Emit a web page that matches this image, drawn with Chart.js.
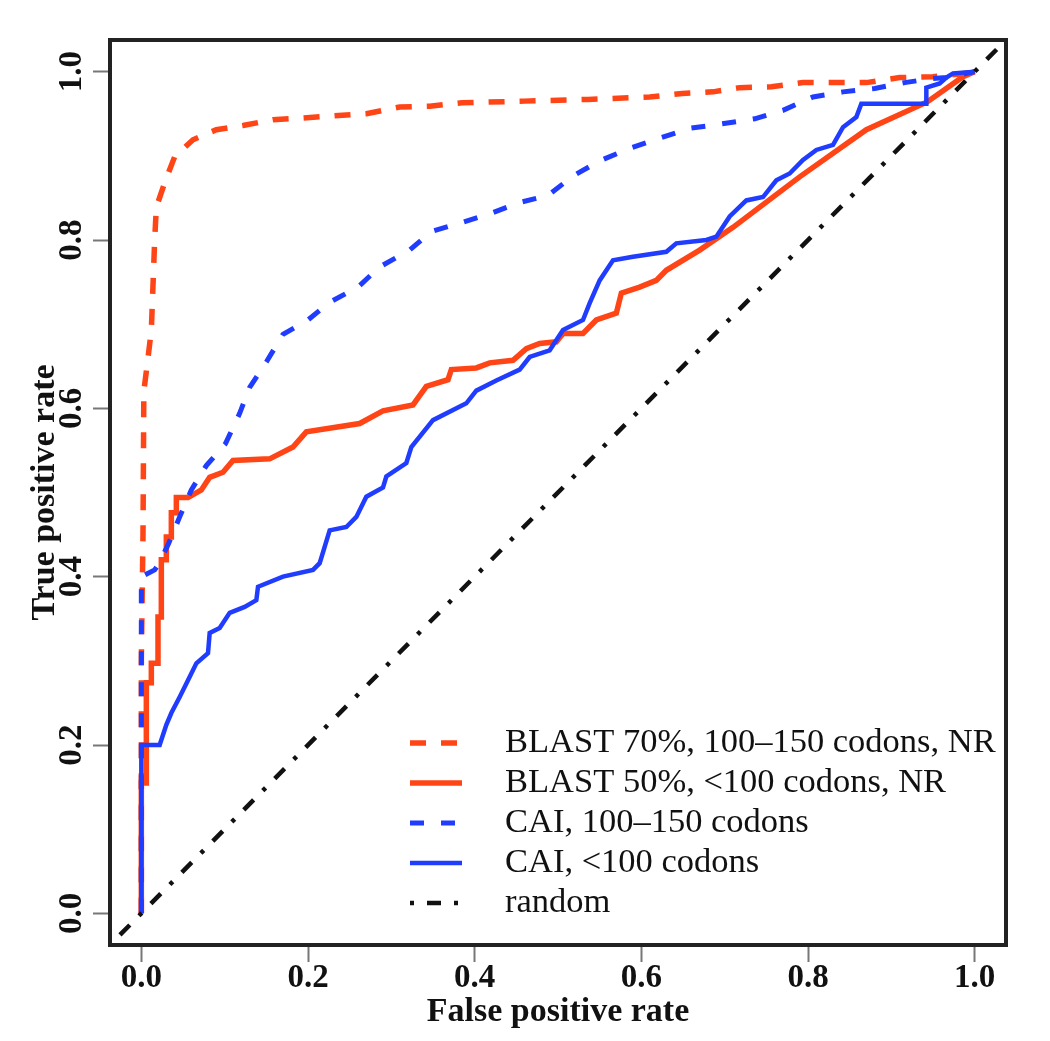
<!DOCTYPE html>
<html>
<head>
<meta charset="utf-8">
<script src="https://cdn.jsdelivr.net/npm/chart.js@4.4.1/dist/chart.umd.min.js"></script>
<style>
  html, body { margin: 0; padding: 0; background: #ffffff; }
  #wrap { width: 1050px; height: 1041px; }
</style>
</head>
<body>
<div id="wrap"><canvas id="c" width="1050" height="1041"></canvas></div>
<script>
// ---- data (false positive rate, true positive rate) ----
const seriesLabels = [
  'BLAST 70%, 100\u2013150 codons, NR',
  'BLAST 50%, <100 codons, NR',
  'CAI, 100\u2013150 codons',
  'CAI, <100 codons',
  'random'
];
const xTicks = [0, 0.2, 0.4, 0.6, 0.8, 1.0];
const yTicks = [0, 0.2, 0.4, 0.6, 0.8, 1.0];

const blast70 = [[0,0],[0,0.30],[0.002,0.45],[0.003,0.62],[0.008,0.66],[0.012,0.693],[0.016,0.80],[0.018,0.839],
  [0.028,0.868],[0.040,0.899],[0.062,0.919],[0.090,0.931],[0.122,0.936],[0.158,0.943],[0.194,0.945],[0.27,0.95],
  [0.31,0.958],[0.346,0.959],[0.385,0.963],[0.46,0.965],[0.536,0.967],[0.61,0.97],[0.649,0.974],[0.686,0.976],
  [0.718,0.981],[0.756,0.982],[0.794,0.987],[0.834,0.987],[0.87,0.987],[0.91,0.993],[0.95,0.994],[0.99,0.998],[1,1]];

const blast50 = [[0,0],[0,0.155],[0.006,0.155],[0.006,0.274],[0.012,0.274],[0.012,0.297],[0.02,0.297],[0.02,0.352],
  [0.024,0.352],[0.024,0.42],[0.03,0.42],[0.03,0.447],[0.036,0.447],[0.036,0.476],[0.042,0.476],[0.042,0.494],
  [0.056,0.494],[0.072,0.503],[0.082,0.518],[0.098,0.524],[0.11,0.538],[0.154,0.54],[0.182,0.554],[0.198,0.572],
  [0.262,0.582],[0.29,0.597],[0.326,0.604],[0.342,0.626],[0.368,0.634],[0.372,0.646],[0.402,0.648],[0.418,0.654],
  [0.446,0.657],[0.462,0.671],[0.478,0.677],[0.498,0.679],[0.506,0.689],[0.53,0.689],[0.546,0.705],[0.57,0.713],
  [0.576,0.737],[0.598,0.744],[0.618,0.752],[0.63,0.764],[0.67,0.788],[0.71,0.815],[0.79,0.875],[0.87,0.931],
  [0.943,0.964],[0.986,0.994],[1,1]];

const cai150 = [[0,0],[0,0.40],[0.016,0.408],[0.022,0.417],[0.033,0.44],[0.046,0.471],[0.060,0.503],[0.078,0.532],
  [0.101,0.558],[0.118,0.594],[0.13,0.625],[0.15,0.655],[0.17,0.688],[0.2,0.705],[0.226,0.726],[0.26,0.744],
  [0.286,0.768],[0.322,0.788],[0.348,0.81],[0.382,0.82],[0.418,0.831],[0.452,0.844],[0.488,0.853],[0.518,0.876],
  [0.55,0.894],[0.586,0.909],[0.622,0.921],[0.66,0.933],[0.697,0.938],[0.736,0.944],[0.77,0.954],[0.806,0.97],
  [0.842,0.976],[0.88,0.98],[0.916,0.987],[0.95,0.992],[0.966,0.993],[1,1]];

const cai100 = [[0,0],[0,0.2],[0.022,0.2],[0.03,0.224],[0.036,0.238],[0.046,0.257],[0.056,0.277],[0.066,0.297],
  [0.08,0.309],[0.082,0.333],[0.094,0.339],[0.106,0.357],[0.124,0.364],[0.138,0.372],[0.14,0.388],[0.17,0.4],
  [0.206,0.408],[0.214,0.416],[0.226,0.455],[0.246,0.459],[0.258,0.471],[0.27,0.495],[0.29,0.506],[0.294,0.519],
  [0.318,0.535],[0.324,0.554],[0.35,0.586],[0.39,0.606],[0.402,0.621],[0.426,0.633],[0.454,0.646],[0.466,0.661],
  [0.49,0.669],[0.506,0.693],[0.53,0.705],[0.538,0.725],[0.55,0.752],[0.566,0.776],[0.59,0.78],[0.63,0.786],
  [0.642,0.796],[0.678,0.8],[0.69,0.804],[0.706,0.828],[0.726,0.847],[0.746,0.851],[0.762,0.871],[0.778,0.879],
  [0.794,0.895],[0.81,0.907],[0.83,0.913],[0.842,0.934],[0.858,0.946],[0.864,0.962],[0.942,0.962],[0.942,0.981],
  [0.958,0.986],[0.966,0.993],[0.974,0.998],[1,1]];

const randomLine = [[-0.04,-0.04],[1.04,1.04]];

// ---- styling ----
const RED = '#ff4416';
const BLUE = '#1f3cff';
const SERIF = '"Liberation Serif", "Times New Roman", serif';

const toXY = arr => arr.map(p => ({x: p[0], y: p[1]}));

const datasets = [
  {label: seriesLabels[0], data: toXY(blast70), borderColor: RED, borderWidth: 5.5, borderDash: [16, 15], order: 4},
  {label: seriesLabels[1], data: toXY(blast50), borderColor: RED, borderWidth: 5.5, borderDash: [], order: 3},
  {label: seriesLabels[2], data: toXY(cai150), borderColor: BLUE, borderWidth: 5, borderDash: [14, 17], order: 2},
  {label: seriesLabels[3], data: toXY(cai100), borderColor: BLUE, borderWidth: 4.5, borderDash: [], order: 1},
  {label: seriesLabels[4], data: toXY(randomLine), borderColor: '#111111', borderWidth: 4.5, borderDash: [4, 13, 14, 13], order: 0}
].map(d => Object.assign({pointRadius: 0, pointHoverRadius: 0, tension: 0, fill: false, borderJoinStyle: 'miter', borderCapStyle: 'butt'}, d));

const boxPlugin = {
  id: 'frameBox',
  afterDraw(chart) {
    const {ctx, chartArea: a} = chart;
    ctx.save();
    ctx.strokeStyle = '#222222';
    ctx.lineWidth = 4;
    ctx.setLineDash([]);
    ctx.strokeRect(a.left + 2, a.top + 2, a.right - a.left - 4, a.bottom - a.top - 4);
    ctx.restore();
  }
};

const legendPlugin = {
  id: 'insideLegend',
  afterDatasetsDraw(chart) {
    const {ctx, chartArea: a} = chart;
    const x0 = a.left + 302, y0 = 743, rowH = 40, sampleLen = 52, textX = a.left + 397;
    ctx.save();
    chart.data.datasets.forEach((ds, i) => {
      const y = y0 + i * rowH;
      ctx.beginPath();
      ctx.strokeStyle = ds.borderColor;
      ctx.lineWidth = ds.borderWidth;
      ctx.lineCap = 'butt';
      ctx.setLineDash(ds.borderDash || []);
      ctx.moveTo(x0, y);
      ctx.lineTo(x0 + sampleLen, y);
      ctx.stroke();
      ctx.setLineDash([]);
      ctx.fillStyle = '#111111';
      ctx.font = '34.5px ' + SERIF;
      ctx.textBaseline = 'middle';
      ctx.textAlign = 'left';
      ctx.fillText(ds.label, textX, y);
    });
    ctx.restore();
  }
};

const tickFont = {family: SERIF, size: 33, weight: 'bold', lineHeight: 1};
const titleFont = {family: SERIF, size: 34, weight: 'bold', lineHeight: 1.2};

new Chart(document.getElementById('c'), {
  type: 'line',
  data: {datasets},
  options: {
    responsive: false,
    animation: false,
    events: [],
    layout: {padding: {top: 38, right: 42, left: 0, bottom: 0}},
    plugins: {legend: {display: false}, tooltip: {enabled: false}},
    scales: {
      x: {
        type: 'linear', min: -0.04, max: 1.04,
        afterBuildTicks: s => { s.ticks = xTicks.map(v => ({value: v})); },
        afterFit: s => { s.height = 94; },
        border: {display: false},
        grid: {drawOnChartArea: false, drawTicks: true, tickLength: 15, tickWidth: 2, tickColor: '#777777'},
        ticks: {autoSkip: false, maxRotation: 0, padding: 0, color: '#111111', font: tickFont,
                callback: v => Number(v).toFixed(1)},
        title: {display: true, text: 'False positive rate', color: '#111111', font: titleFont, padding: {top: 0, bottom: 8}}
      },
      y: {
        type: 'linear', min: -0.04, max: 1.04,
        afterBuildTicks: s => { s.ticks = yTicks.map(v => ({value: v})); },
        afterFit: s => { s.width = 108; },
        border: {display: false},
        grid: {drawOnChartArea: false, drawTicks: true, tickLength: 15, tickWidth: 2, tickColor: '#777777'},
        ticks: {autoSkip: false, minRotation: 90, maxRotation: 90, crossAlign: 'center', padding: 0,
                color: '#111111', font: tickFont, callback: v => Number(v).toFixed(1)},
        title: {display: true, text: 'True positive rate', color: '#111111', font: titleFont, padding: {top: 25, bottom: 0}}
      }
    }
  },
  plugins: [legendPlugin, boxPlugin]
});
</script>
</body>
</html>
